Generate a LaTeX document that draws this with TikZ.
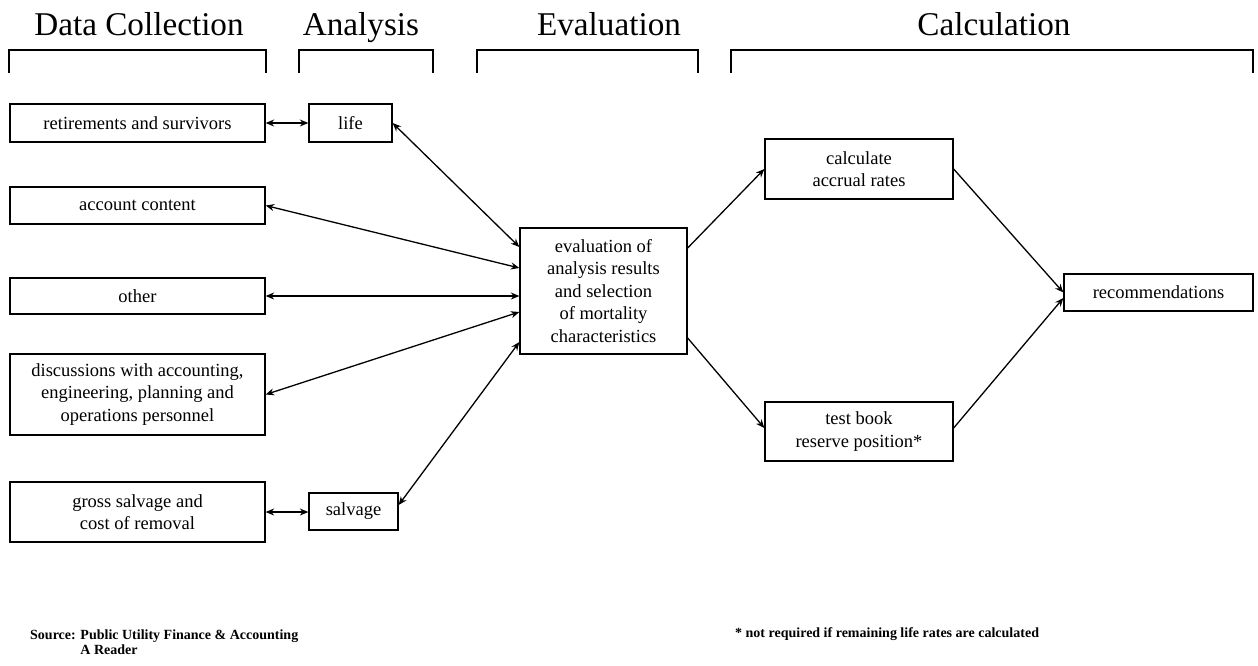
\documentclass[tikz,border=0pt]{standalone}
\usepackage{fontspec}
\setmainfont{Liberation Serif}
\usetikzlibrary{arrows.meta}
\begin{document}
\begin{tikzpicture}[x=1pt,y=-1pt,
  box/.style={draw, line width=1.3pt, inner sep=0pt, align=center, font=\fontsize{18.5}{22.5}\selectfont},
  head/.style={font=\fontsize{33.2}{38}\selectfont, anchor=base, inner sep=0pt},
  brk/.style={line width=1.3pt},
  tip/.style={},
  link/.style={line width=1.3pt, {Stealth[length=8.5pt,width=7pt]}-{Stealth[length=8.5pt,width=7pt]}},
  flow/.style={line width=1.3pt, -{Stealth[length=8.5pt,width=7pt]}},
  note/.style={font=\bfseries\fontsize{14}{16}\selectfont, inner sep=0pt}
]
\useasboundingbox (0,0) rectangle (1258,665);

% headers
\node[head] (hdc) at (139,35) {Data Collection};
\node[head] (han) at (361,35) {Analysis};
\node[head] (hev) at (609,35) {Evaluation};
\node[head] (hca) at (994,35) {Calculation};

% brackets
\draw[brk] (9,73) -- (9,50) -- (266,50) -- (266,73);
\draw[brk] (299,73) -- (299,50) -- (433,50) -- (433,73);
\draw[brk] (477,73) -- (477,50) -- (698,50) -- (698,73);
\draw[brk] (731,73) -- (731,50) -- (1253,50) -- (1253,73);

% boxes
\node[box, minimum width=255pt, minimum height=38pt] (ret) at (137.5,123) {retirements and survivors};
\node[box, minimum width=83pt, minimum height=38pt] (life) at (350.5,123) {life};
\node[box, minimum width=255pt, minimum height=37pt] (acc) at (137.5,205.5) {account content};
\node[box, minimum width=255pt, minimum height=36pt] (oth) at (137.5,296) {other};
\node[box, minimum width=255pt, minimum height=81pt] (disc) at (137.5,394.5) {discussions with accounting,\\ engineering, planning and\\ operations personnel};
\node[box, minimum width=255pt, minimum height=60pt] (gross) at (137.5,512) {gross salvage and\\ cost of removal};
\node[box, minimum width=89pt, minimum height=37pt] (salv) at (353.5,511.5) {salvage};
\node[box, minimum width=167pt, minimum height=126pt] (eval) at (603.5,291) {evaluation of\\ analysis results\\ and selection\\ of mortality\\ characteristics};
\node[box, minimum width=188pt, minimum height=60pt] (calc) at (859,169) {calculate\\ accrual rates};
\node[box, minimum width=188pt, minimum height=59pt] (test) at (859,431.5) {test book\\ reserve position*};
\node[box, minimum width=189pt, minimum height=37pt] (rec) at (1158.5,292.5) {recommendations};

% connectors
\draw[link] (ret.east) -- (life.west);
\draw[link] (life.east) -- ([yshift=44pt]eval.west);
\draw[link] (acc.east) -- ([yshift=23pt]eval.west);
\draw[link] (oth.east) -- (oth.east -| eval.west);
\draw[link] (disc.east) -- ([yshift=-21pt]eval.west);
\draw[link] (gross.east) -- (gross.east -| salv.west);
\draw[link] ([yshift=6.5pt]salv.east) -- ([yshift=-51pt]eval.west);
\draw[flow] ([yshift=43pt]eval.east) -- (calc.west);
\draw[flow] ([yshift=-47pt]eval.east) -- ([yshift=3.5pt]test.west);
\draw[flow] (calc.east) -- (rec.west);
\draw[flow] ([yshift=3.5pt]test.east) -- ([yshift=-5.5pt]rec.west);

% notes
\node[note, anchor=west] (src) at (30,644) {\begin{tabular}{@{}l@{ }l@{}}Source: & Public Utility Finance \& Accounting\\[-1pt] & A Reader\end{tabular}};
\node[note, anchor=west] (fn) at (735,634) {* not required if remaining life rates are calculated};
\end{tikzpicture}
\end{document}
